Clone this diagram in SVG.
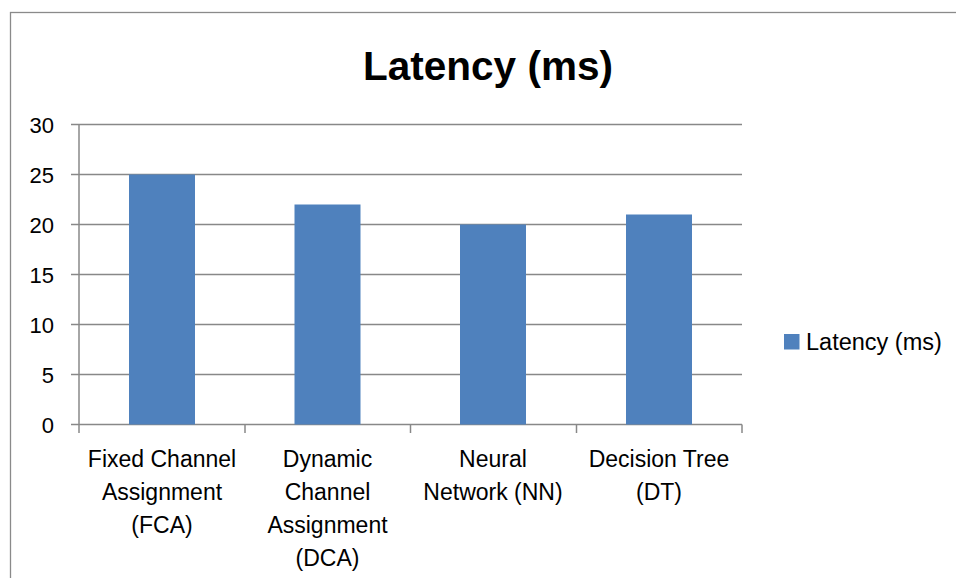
<svg xmlns="http://www.w3.org/2000/svg" width="956" height="578" viewBox="0 0 956 578">
<style>
.t{font-family:"Liberation Sans",Arial,sans-serif;fill:#000}
.ax{font-size:22px}
.cat{font-size:23px;text-anchor:middle}
.grid{stroke:#888;stroke-width:1.5}
.bar{fill:#4F81BD}
</style>
<rect x="0" y="0" width="956" height="578" fill="#fff"/>
<rect x="10.5" y="12.5" width="960" height="580" fill="none" stroke="#8a8a8a" stroke-width="1.3"/>
<text class="t" x="488" y="80" font-size="40.5" font-weight="bold" text-anchor="middle">Latency (ms)</text>
<g id="gridlines">
<line class="grid" x1="71" y1="124.5" x2="742" y2="124.5"/>
<line class="grid" x1="71" y1="174.5" x2="742" y2="174.5"/>
<line class="grid" x1="71" y1="224.5" x2="742" y2="224.5"/>
<line class="grid" x1="71" y1="274.5" x2="742" y2="274.5"/>
<line class="grid" x1="71" y1="324.5" x2="742" y2="324.5"/>
<line class="grid" x1="71" y1="374.5" x2="742" y2="374.5"/>
<line class="grid" x1="71" y1="424.5" x2="742" y2="424.5"/>
<line class="grid" x1="79" y1="124.5" x2="79" y2="433"/>
<line class="grid" x1="245" y1="424.5" x2="245" y2="433"/>
<line class="grid" x1="410.5" y1="424.5" x2="410.5" y2="433"/>
<line class="grid" x1="576.5" y1="424.5" x2="576.5" y2="433"/>
<line class="grid" x1="742" y1="424.5" x2="742" y2="433"/>
</g>
<g id="yaxis" class="t ax" text-anchor="end">
<text x="54" y="132.5">30</text>
<text x="54" y="182.5">25</text>
<text x="54" y="232.5">20</text>
<text x="54" y="282.5">15</text>
<text x="54" y="332.5">10</text>
<text x="54" y="382.5">5</text>
<text x="54" y="432.5">0</text>
</g>
<g id="bar-fca"><rect class="bar" x="129" y="174.5" width="66" height="250"/></g>
<g id="bar-dca"><rect class="bar" x="294.5" y="204.5" width="66" height="220"/></g>
<g id="bar-nn"><rect class="bar" x="460" y="224.5" width="66" height="200"/></g>
<g id="bar-dt"><rect class="bar" x="626" y="214.5" width="66" height="210"/></g>
<g id="label-fca" class="t cat">
<text x="162" y="467">Fixed Channel</text>
<text x="162" y="500">Assignment</text>
<text x="162" y="533">(FCA)</text>
</g>
<g id="label-dca" class="t cat">
<text x="327.5" y="467">Dynamic</text>
<text x="327.5" y="500">Channel</text>
<text x="327.5" y="533">Assignment</text>
<text x="327.5" y="566">(DCA)</text>
</g>
<g id="label-nn" class="t cat">
<text x="493" y="467">Neural</text>
<text x="493" y="500">Network (NN)</text>
</g>
<g id="label-dt" class="t cat">
<text x="659" y="467">Decision Tree</text>
<text x="659" y="500">(DT)</text>
</g>
<g id="legend">
<rect class="bar" x="784" y="334" width="15.5" height="15.5"/>
<text class="t" x="806" y="350" font-size="23.5">Latency (ms)</text>
</g>
</svg>
